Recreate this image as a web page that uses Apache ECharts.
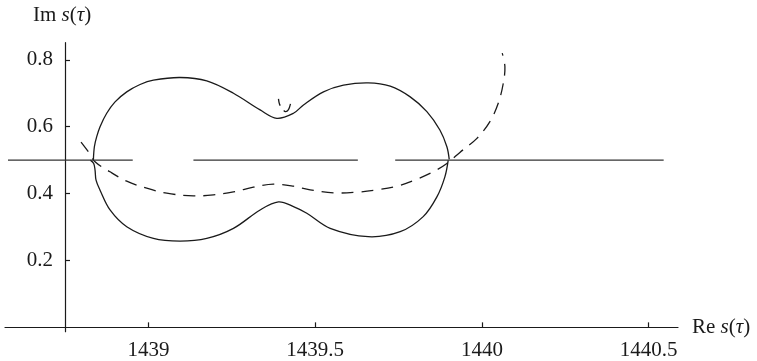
<!DOCTYPE html>
<html>
<head>
<meta charset="utf-8">
<script src="https://cdn.jsdelivr.net/npm/echarts@6/dist/echarts.min.js"></script>
<style>
  html, body { margin: 0; padding: 0; background: #fff; }
  #chart { width: 757px; height: 361px; }
</style>
</head>
<body>
<div id="chart"></div>
<script>
// Tick values
const xTicks = [1439, 1439.5, 1440, 1440.5];
const yTicks = [0.2, 0.4, 0.6, 0.8];

// Solid closed curve, upper part (Re s, Im s)
const upperArc = [
  [1438.835, 0.500], [1438.838, 0.540], [1438.845, 0.570], [1438.855, 0.600],
  [1438.875, 0.640], [1438.900, 0.674], [1438.935, 0.704], [1438.975, 0.726],
  [1439.015, 0.739], [1439.095, 0.747], [1439.175, 0.737], [1439.255, 0.700],
  [1439.335, 0.650], [1439.385, 0.625], [1439.435, 0.640], [1439.465, 0.665],
  [1439.525, 0.704], [1439.585, 0.724], [1439.659, 0.731], [1439.725, 0.721],
  [1439.785, 0.689], [1439.835, 0.645], [1439.874, 0.590], [1439.895, 0.540],
  [1439.902, 0.502]
];

// Solid closed curve, lower part
const lowerArc = [
  [1438.826, 0.500], [1438.836, 0.490], [1438.840, 0.470], [1438.843, 0.440],
  [1438.855, 0.410], [1438.885, 0.351], [1438.935, 0.301], [1439.015, 0.266],
  [1439.095, 0.258], [1439.175, 0.266], [1439.255, 0.296], [1439.335, 0.351],
  [1439.390, 0.375], [1439.435, 0.361], [1439.475, 0.341], [1439.545, 0.296],
  [1439.659, 0.271], [1439.755, 0.286], [1439.824, 0.331], [1439.865, 0.390],
  [1439.889, 0.450], [1439.899, 0.500]
];

// Dashed curve
const dashedCurve = [
  [1438.798, 0.554], [1438.820, 0.525], [1438.840, 0.495], [1438.885, 0.465],
  [1438.935, 0.437], [1438.995, 0.416], [1439.055, 0.401], [1439.135, 0.393],
  [1439.195, 0.396], [1439.255, 0.405], [1439.315, 0.419], [1439.375, 0.428],
  [1439.435, 0.422], [1439.485, 0.411], [1439.555, 0.402], [1439.625, 0.404],
  [1439.685, 0.411], [1439.745, 0.422], [1439.805, 0.443], [1439.854, 0.465],
  [1439.895, 0.490], [1439.934, 0.523], [1439.985, 0.565], [1440.024, 0.615],
  [1440.049, 0.670], [1440.064, 0.729], [1440.069, 0.779], [1440.061, 0.820]
];

// Small dashed hook near the neck
const dashedHook = [
  [1439.390, 0.683], [1439.393, 0.668], [1439.401, 0.654],
  [1439.411, 0.645], [1439.420, 0.651], [1439.426, 0.668]
];

// Horizontal solid segments at Im s = 0.5 : [start, end]
const horizLevel = 0.5;
const horizSegments = [
  [1438.579, 1438.953],
  [1439.135, 1439.628],
  [1439.740, 1440.545]
];

const chart = echarts.init(document.getElementById('chart'), null, { renderer: 'canvas' });

const FONT = 'Liberation Serif, Times New Roman, serif';
const INK = '#1a1a1a';
const GRID = { left: 5, right: 79, top: 42.7, bottom: 29.3 };
const Y_MIN = -0.013, Y_MAX = 0.851;

// Smooth curve through data points, positioned by the cartesian axes (api.coord)
function curveSeries(points, dash, smooth) {
  return {
    type: 'custom',
    coordinateSystem: 'cartesian2d',
    xAxisIndex: 0, yAxisIndex: 0,
    silent: true,
    clip: false,
    encode: { x: 0, y: 1 },
    data: points,
    renderItem: function (params, api) {
      if (params.dataIndex !== 0) return null;
      const pts = points.map(function (p) { return api.coord(p); });
      return {
        type: 'polyline',
        shape: { points: pts, smooth: smooth },
        style: {
          stroke: INK, lineWidth: 1.3, fill: 'none',
          lineDash: dash || null
        }
      };
    }
  };
}

const series = [];
horizSegments.forEach(function (s) {
  series.push({
    type: 'line', xAxisIndex: 0, yAxisIndex: 0, showSymbol: false, silent: true,
    data: [[s[0], horizLevel], [s[1], horizLevel]],
    lineStyle: { color: '#333', width: 1.3 }
  });
});
series.push(curveSeries(upperArc, null, 0.35));
series.push(curveSeries(lowerArc, null, 0.35));
series.push(curveSeries(dashedCurve, [12, 8], 0.35));
series.push(curveSeries(dashedHook, [7, 6, 12, 6], 0.35));

const option = {
  animation: false,
  backgroundColor: '#fff',
  grid: [
    Object.assign({}, GRID),
    Object.assign({}, GRID, { left: 65 })
  ],
  xAxis: [
    {
      type: 'value', gridIndex: 0, min: 1438.57, max: 1440.588,
      axisLine: { show: true, onZero: true, lineStyle: { color: INK, width: 1.2 } },
      axisTick: { show: true, inside: true, length: 5, customValues: xTicks, lineStyle: { color: INK, width: 1.2 } },
      axisLabel: {
        show: true, customValues: xTicks, margin: 8,
        fontFamily: FONT, fontSize: 21, color: INK,
        formatter: function (v) { return String(v); }
      },
      splitLine: { show: false }
    },
    {
      type: 'value', gridIndex: 1, min: 0, max: 1, show: false
    }
  ],
  yAxis: [
    {
      type: 'value', gridIndex: 0, min: Y_MIN, max: Y_MAX, show: false,
      splitLine: { show: false }
    },
    {
      type: 'value', gridIndex: 1, min: Y_MIN, max: Y_MAX,
      axisLine: { show: true, onZero: false, lineStyle: { color: INK, width: 1.2 } },
      axisTick: { show: true, inside: true, length: 5, customValues: yTicks, lineStyle: { color: INK, width: 1.2 } },
      axisLabel: {
        show: true, customValues: yTicks, margin: 12,
        fontFamily: FONT, fontSize: 21, color: INK,
        formatter: function (v) { return v.toFixed(1); }
      },
      splitLine: { show: false }
    }
  ],
  graphic: [
    {
      type: 'text', x: 33, y: 15,
      style: {
        text: '{n|Im }{i|s}{n|(}{i|τ}{n|)}',
        verticalAlign: 'middle', align: 'left',
        rich: {
          n: { fontFamily: FONT, fontSize: 21, fill: INK, color: INK },
          i: { fontFamily: FONT, fontSize: 21, fontStyle: 'italic', fill: INK, color: INK }
        }
      }
    },
    {
      type: 'text', x: 692, y: 327,
      style: {
        text: '{n|Re }{i|s}{n|(}{i|τ}{n|)}',
        verticalAlign: 'middle', align: 'left',
        rich: {
          n: { fontFamily: FONT, fontSize: 21, fill: INK, color: INK },
          i: { fontFamily: FONT, fontSize: 21, fontStyle: 'italic', fill: INK, color: INK }
        }
      }
    }
  ],
  series: series
};

chart.setOption(option);
</script>
</body>
</html>
